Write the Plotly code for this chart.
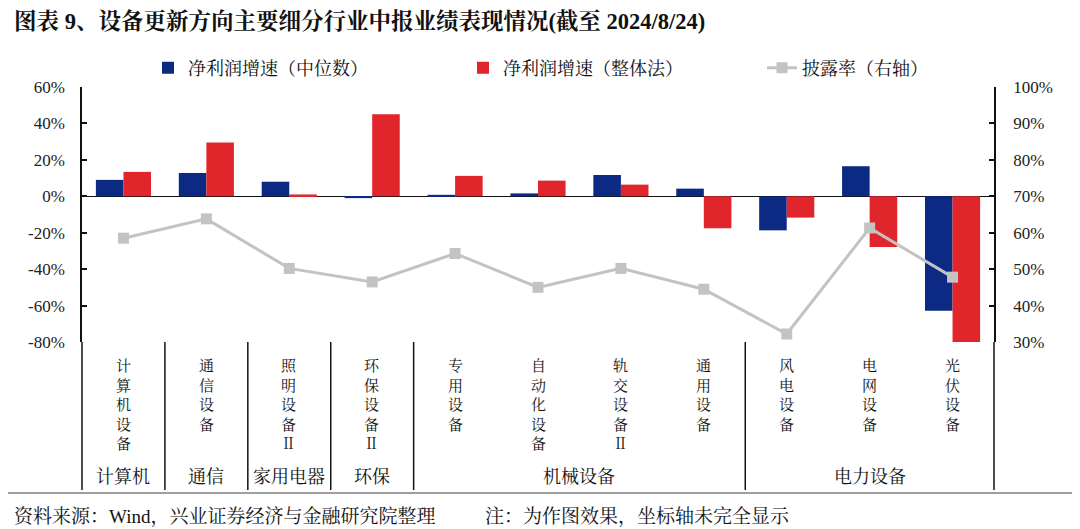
import plotly.graph_objects as go

categories = ['计算机设备', '通信设备', '照明设备Ⅱ', '环保设备Ⅱ', '专用设备', '自动化设备',
              '轨交设备Ⅱ', '通用设备', '风电设备', '电网设备', '光伏设备']
profit_median = [9.0, 12.8, 8.0, -1.0, 0.8, 1.6, 11.7, 4.2, -18.7, 16.5, -62.8]
profit_overall = [13.4, 29.5, 1.0, 45.0, 11.2, 8.6, 6.4, -17.6, -11.7, -27.9, -85.0]
disclosure_rate = [58.5, 63.8, 50.2, 46.5, 54.3, 45.0, 50.2, 44.5, 32.2, 61.3, 47.8]

group_names = ['计算机', '通信', '家用电器', '环保', '机械设备', '电力设备']
group_sizes = [1, 1, 1, 1, 4, 3]

left_ticks = [60, 40, 20, 0, -20, -40, -60, -80]
right_ticks = [100, 90, 80, 70, 60, 50, 40, 30]

# page is rendered with an 8px body margin; compensate so page coordinates match
OFF = 8
PAGE_W, PAGE_H = 1080, 529
W, H = PAGE_W - OFF, PAGE_H - OFF
PLOT_L, PLOT_R, PLOT_T, PLOT_B = 82, 994, 87, 342   # page pixel box of plot area
ML, MT = PLOT_L - OFF, PLOT_T - OFF
PW, PH = PLOT_R - PLOT_L, PLOT_B - PLOT_T
MR = W - ML - PW
MB = H - MT - PH

def px_x(px):
    return (px - PLOT_L) / PW

def px_y(py):
    return (PLOT_B - py) / PH

SERIF = "Times New Roman, Liberation Serif, Noto Serif CJK SC, Noto Sans CJK SC"
CJK = "Noto Serif CJK SC, Noto Sans CJK SC, Liberation Serif"

fig = go.Figure()
fig.add_trace(go.Bar(x=categories, y=profit_median, name='净利润增速（中位数）',
                     marker=dict(color='#0c2a84', line=dict(width=0)), legend='legend'))
fig.add_trace(go.Bar(x=categories, y=profit_overall, name='净利润增速（整体法）',
                     marker=dict(color='#e0262a', line=dict(width=0)), legend='legend'))
fig.add_trace(go.Scatter(x=categories, y=disclosure_rate, name='披露率（右轴）', yaxis='y2',
                         mode='lines+markers', legend='legend2',
                         line=dict(color='#c3c3c3', width=3),
                         marker=dict(symbol='square', size=11, color='#c3c3c3')))

annotations = []
shapes = []

# vertical category labels
for c in categories:
    annotations.append(dict(x=c, xref='x', y=px_y(352), yref='paper', yanchor='top',
                            xanchor='center', showarrow=False, align='center',
                            text='<br>'.join(list(c)),
                            font=dict(family=CJK, size=15, color='#111111')))

# group labels and separators
idx = 0
bounds = [-0.5]
for name, n in zip(group_names, group_sizes):
    center = idx + (n - 1) / 2
    annotations.append(dict(x=center, xref='x', y=px_y(475), yref='paper', yanchor='middle',
                            xanchor='center', showarrow=False, text=name,
                            font=dict(family=CJK, size=18, color='#111111')))
    idx += n
    bounds.append(idx - 0.5)

for b in bounds:
    if b == -0.5:
        xr, xv = 'paper', 0
    elif b == len(categories) - 0.5:
        xr, xv = 'paper', 1
    else:
        xr, xv = 'x', b
    shapes.append(dict(type='line', xref=xr, x0=xv, x1=xv, yref='paper', y0=0, y1=px_y(490),
                       line=dict(color='#111111', width=1.5)))

# footer line
shapes.append(dict(type='line', xref='paper', x0=px_x(OFF), x1=px_x(PAGE_W), yref='paper',
                   y0=px_y(493), y1=px_y(493), line=dict(color='#7f7f7f', width=1.5)))

# title
annotations.append(dict(x=px_x(12), xref='paper', y=px_y(21), yref='paper', xanchor='left',
                        yanchor='middle', showarrow=False,
                        text='<b>图表 9、设备更新方向主要细分行业中报业绩表现情况(截至 2024/8/24)</b>',
                        font=dict(family=SERIF, size=22.5, color='#111111')))
# footer
annotations.append(dict(x=px_x(12), xref='paper', y=px_y(516), yref='paper', xanchor='left',
                        yanchor='middle', showarrow=False,
                        text='资料来源：Wind，兴业证券经济与金融研究院整理',
                        font=dict(family=SERIF, size=19, color='#111111')))
annotations.append(dict(x=px_x(483), xref='paper', y=px_y(516), yref='paper', xanchor='left',
                        yanchor='middle', showarrow=False,
                        text='注：为作图效果，坐标轴未完全显示',
                        font=dict(family=SERIF, size=19, color='#111111')))

legend_font = dict(family=CJK, size=18, color='#111111')

fig.update_layout(
    width=W, height=H,
    margin=dict(l=ML, r=MR, t=MT, b=MB, pad=0),
    paper_bgcolor='white', plot_bgcolor='white',
    barmode='group', bargap=0.335, bargroupgap=0,
    font=dict(family=SERIF, size=16, color='#111111'),
    showlegend=True,
    legend=dict(orientation='h', x=px_x(148), xanchor='left', y=px_y(68), yanchor='middle',
                entrywidth=270, entrywidthmode='pixels', itemwidth=30,
                font=legend_font, bgcolor='rgba(0,0,0,0)', traceorder='normal'),
    legend2=dict(orientation='h', x=px_x(762), xanchor='left', y=px_y(68), yanchor='middle',
                 itemwidth=30, font=legend_font, bgcolor='rgba(0,0,0,0)'),
    xaxis=dict(type='category', showticklabels=False, showline=False, ticks='',
               showgrid=False, zeroline=False, range=[-0.5, len(categories) - 0.5], fixedrange=True),
    yaxis=dict(range=[-80, 60], tickvals=left_ticks, ticktext=[f'{v}%' for v in left_ticks],
               showline=True, linecolor='#111111', linewidth=1.5, ticks='inside', ticklen=5,
               tickcolor='#111111', tickwidth=1.5, showgrid=False, zeroline=True,
               zerolinecolor='#111111', zerolinewidth=1.2,
               tickfont=dict(family=SERIF, size=17, color='#222222'), ticklabelstandoff=12),
    yaxis2=dict(range=[30, 100], tickvals=right_ticks, ticktext=[f'{v}%' for v in right_ticks],
                overlaying='y', side='right', showline=True, linecolor='#111111', linewidth=1.5,
                ticks='inside', ticklen=5, tickcolor='#111111', tickwidth=1.5,
                showgrid=False, zeroline=False,
                tickfont=dict(family=SERIF, size=17, color='#222222'), ticklabelstandoff=14),
    annotations=annotations,
    shapes=shapes,
)

fig.write_html('out.html')
